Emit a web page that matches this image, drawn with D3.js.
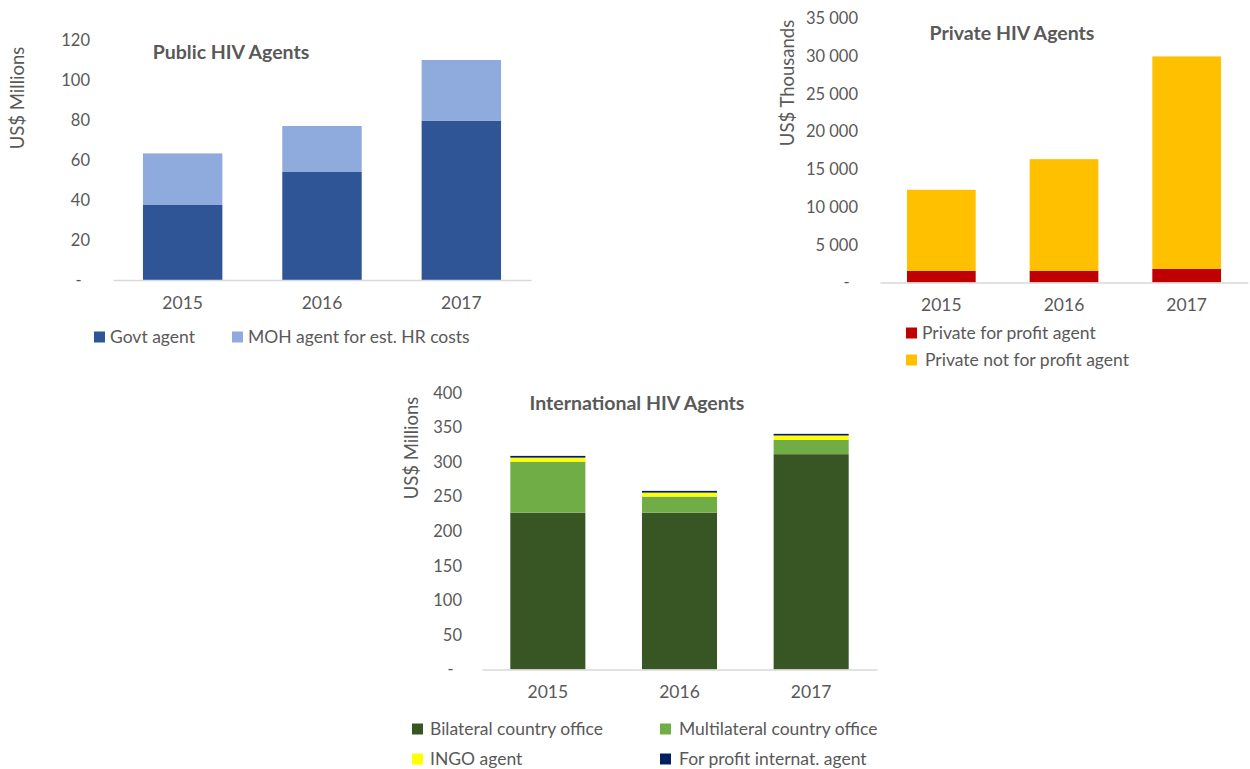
<!DOCTYPE html>
<html lang="en">
<head>
<meta charset="utf-8">
<title>HIV Agents</title>
<script src="https://cdn.jsdelivr.net/npm/d3@7/dist/d3.min.js"></script>
<style>
  body { margin: 0; background: #fff; }
  text { font-family: Lato, "Open Sans", sans-serif; fill: #595959; }
  .title { font-weight: bold; font-size: 19.5px; }
</style>
</head>
<body>
<script>
  // data
  var years = ["2015", "2016", "2017"];

  var publicSeries = ["Govt agent", "MOH agent for est. HR costs"];
  var govtAgent = [37.5, 54, 79.7];
  var mohAgent = [25.8, 23, 30.3];
  var publicTicks = [0, 20, 40, 60, 80, 100, 120];

  var privateSeries = ["Private for profit agent", "Private not for profit agent"];
  var privateForProfit = [1550, 1550, 1800];
  var privateNotForProfit = [10730, 14790, 28150];
  var privateTicks = [0, 5000, 10000, 15000, 20000, 25000, 30000, 35000];

  var intlSeries = ["Bilateral country office", "Multilateral country office", "INGO agent", "For profit internat. agent"];
  var bilateral = [226.9, 226.9, 311.5];
  var multilateral = [73.8, 23.2, 20.7];
  var ingo = [5.8, 5.8, 6.3];
  var forProfitIntl = [2.5, 2.5, 2.4];
  var intlTicks = [0, 50, 100, 150, 200, 250, 300, 350, 400];

  var w = 1250, h = 769;
  var svg = d3.select("body").append("svg").attr("width", w).attr("height", h);

  var spaceFmt = d3.formatLocale({decimal: ".", thousands: " ", grouping: [3], currency: ["", ""]}).format(",");

  // draws one stacked column chart
  function drawChart(c) {
    var g = svg.append("g");
    var rows = years.map(function(yr, i) {
      var r = {year: yr};
      c.keys.forEach(function(k, j) { r[k] = c.values[j][i]; });
      return r;
    });
    var stacked = d3.stack().keys(c.keys)(rows);

    var x = d3.scaleBand().domain(years).range(c.xRange)
      .paddingInner(c.pad).paddingOuter(c.pad / 2);
    var y = d3.scaleLinear().domain([0, d3.max(c.ticks)]).range(c.yRange);

    g.selectAll("g.layer")
      .data(stacked)
      .enter().append("g")
      .attr("class", "layer")
      .attr("fill", function(d, i) { return c.colors[i]; })
      .selectAll("rect")
      .data(function(d) { return d; })
      .enter().append("rect")
      .attr("x", function(d) { return x(d.data.year); })
      .attr("y", function(d) { return y(d[1]); })
      .attr("width", x.bandwidth())
      .attr("height", function(d) { return y(d[0]) - y(d[1]); });

    // y axis: labels only
    var yAxis = g.append("g")
      .attr("transform", "translate(" + c.labelX + ",0)")
      .call(d3.axisLeft(y).tickValues(c.ticks).tickSize(0).tickPadding(0)
        .tickFormat(function(d) { return d === 0 ? "-\u2002" : c.fmt(d); }));
    yAxis.select(".domain").remove();
    yAxis.selectAll("text").style("font-size", "16.5px").attr("font-family", null).attr("fill", "#595959");

    // x axis
    var xAxis = g.append("g")
      .attr("transform", "translate(0," + c.yRange[0] + ")")
      .call(d3.axisBottom(x).tickSize(0).tickPadding(c.xPad));
    xAxis.select(".domain").attr("stroke", "#d9d9d9").attr("stroke-width", 1.5);
    xAxis.selectAll("text").style("font-size", "17.5px").attr("font-family", null).attr("fill", "#595959");

    g.append("text").attr("class", "title")
      .attr("x", c.title[1]).attr("y", c.title[2])
      .attr("text-anchor", "middle").attr("dy", "0.35em")
      .text(c.title[0]);

    g.append("text")
      .attr("transform", "translate(" + c.yTitle[1] + "," + c.yTitle[2] + ") rotate(-90)")
      .attr("text-anchor", "middle").attr("dy", "0.35em")
      .style("font-size", "18.5px")
      .text(c.yTitle[0]);

    var leg = g.selectAll("g.leg")
      .data(c.keys)
      .enter().append("g")
      .attr("transform", function(d, i) { return "translate(" + c.legend[i][0] + "," + c.legend[i][1] + ")"; });
    leg.append("rect").attr("x", 0).attr("y", -5.5).attr("width", 11).attr("height", 11)
      .attr("fill", function(d, i) { return c.colors[i]; });
    leg.append("text").attr("x", function(d, i) { return c.legend[i][2]; }).attr("dy", "0.35em")
      .style("font-size", "17.5px")
      .text(function(d) { return d; });
  }

  drawChart({
    keys: publicSeries,
    values: [govtAgent, mohAgent],
    colors: ["#2f5597", "#8faadc"],
    ticks: publicTicks,
    fmt: d3.format("d"),
    xRange: [113, 531], yRange: [280, 40], pad: 0.43, labelX: 90, xPad: 17,
    title: ["Public HIV Agents", 231, 52],
    yTitle: ["US$ Millions", 18, 98],
    legend: [[94, 337, 16], [232, 337, 16]]
  });

  drawChart({
    keys: privateSeries,
    values: [privateForProfit, privateNotForProfit],
    colors: ["#c00000", "#ffc000"],
    ticks: privateTicks,
    fmt: spaceFmt,
    xRange: [880, 1248], yRange: [282.5, 18.3], pad: 0.44, labelX: 858, xPad: 16,
    title: ["Private HIV Agents", 1012, 33],
    yTitle: ["US$ Thousands", 788, 83],
    legend: [[906, 333, 16], [906, 360, 19]]
  });

  drawChart({
    keys: intlSeries,
    values: [bilateral, multilateral, ingo, forProfitIntl],
    colors: ["#375623", "#70ad47", "#ffff00", "#002060"],
    ticks: intlTicks,
    fmt: d3.format("d"),
    xRange: [482, 877], yRange: [669.5, 393], pad: 0.43, labelX: 462, xPad: 16,
    title: ["International HIV Agents", 637, 403],
    yTitle: ["US$ Millions", 412, 448],
    legend: [[412, 729, 18], [660, 729, 19], [412, 759, 18], [660, 759, 19]]
  });
</script>
</body>
</html>
